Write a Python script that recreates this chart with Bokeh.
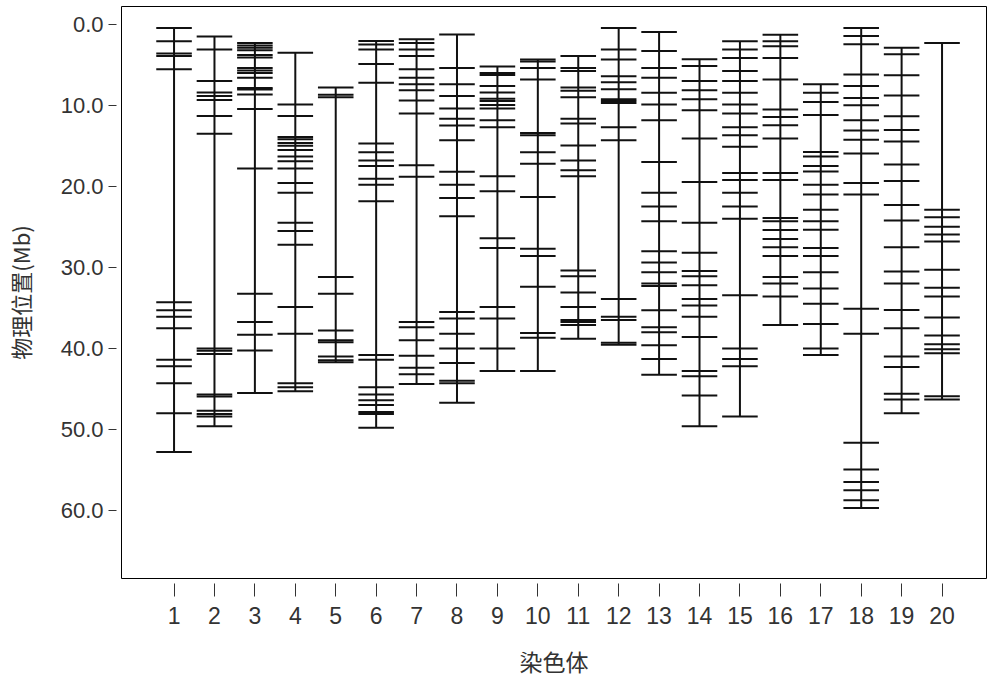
from bokeh.plotting import figure
from bokeh.models import Range1d, FixedTicker, NumeralTickFormatter, ColumnDataSource
from bokeh.embed import file_html
from bokeh.resources import INLINE

# chromosome labels
chromosomes = list(range(1, 21))

# marker physical positions (Mb) per chromosome
chr1 = [0.45, 2.1, 3.6, 3.9, 5.55, 34.3, 35.3, 36.1, 37.5, 41.4, 42.2, 44.3, 48.0, 52.8]
chr2 = [1.5, 3.1, 7.0, 8.4, 8.85, 9.35, 11.3, 13.5, 40.0, 40.3, 40.7, 45.7, 45.95, 47.7, 48.1, 48.4, 49.6]
chr3 = [2.3, 2.6, 2.9, 3.2, 3.8, 4.1, 5.4, 5.7, 6.0, 6.6, 7.85, 8.05, 8.65, 10.45, 17.8, 33.25, 36.75, 38.3, 40.25, 45.5]
chr4 = [3.5, 9.9, 11.3, 13.9, 14.2, 14.65, 15.0, 15.5, 16.3, 16.9, 17.8, 19.6, 20.8, 24.5, 25.5, 27.2, 34.9, 38.2, 44.3, 44.8, 45.3]
chr5 = [7.8, 8.7, 9.0, 31.2, 33.25, 37.8, 39.0, 39.25, 41.0, 41.45, 41.7]
chr6 = [2.05, 2.5, 3.1, 4.9, 7.2, 14.7, 15.8, 16.8, 17.5, 19.05, 19.8, 21.85, 40.8, 41.4, 44.8, 45.7, 46.4, 47.0, 47.85, 48.1, 49.8]
chr7 = [1.85, 2.3, 3.1, 3.9, 5.55, 6.6, 7.4, 8.15, 9.4, 11.0, 17.4, 18.8, 36.75, 37.4, 39.0, 40.9, 42.4, 43.2, 44.4]
chr8 = [1.25, 5.4, 7.4, 8.85, 10.4, 11.65, 12.5, 14.3, 18.2, 19.8, 21.45, 23.7, 35.5, 36.3, 38.2, 40.0, 41.8, 44.0, 44.3, 46.7]
chr9 = [5.2, 6.0, 6.25, 7.6, 8.4, 9.2, 9.45, 9.95, 10.4, 11.85, 12.7, 18.75, 20.6, 26.4, 27.6, 34.9, 36.3, 40.0, 42.8]
chr10 = [4.35, 4.6, 5.4, 6.8, 13.4, 13.7, 15.8, 17.2, 21.3, 27.7, 28.6, 32.4, 38.1, 38.7, 42.8]
chr11 = [3.9, 5.4, 5.75, 7.8, 8.2, 9.0, 11.65, 12.25, 14.95, 16.8, 18.0, 18.75, 30.4, 31.1, 33.1, 34.9, 36.5, 36.75, 37.1, 38.8]
chr12 = [0.45, 3.1, 4.35, 6.4, 7.15, 8.0, 9.25, 9.45, 9.7, 12.7, 14.3, 33.9, 36.1, 36.5, 39.3, 39.55]
chr13 = [0.95, 3.3, 5.4, 6.6, 8.45, 9.9, 11.85, 17.0, 20.8, 22.5, 24.3, 28.0, 29.4, 30.6, 32.0, 32.3, 35.3, 37.4, 38.0, 39.6, 41.3, 43.25]
chr14 = [4.3, 5.15, 7.0, 8.15, 9.25, 10.6, 14.1, 19.45, 24.5, 28.2, 30.45, 31.1, 32.2, 33.9, 34.7, 36.1, 38.6, 42.8, 43.45, 45.8, 49.6]
chr15 = [2.1, 3.1, 4.15, 5.75, 7.0, 8.45, 9.9, 11.0, 12.7, 13.7, 15.1, 18.35, 19.2, 20.8, 22.5, 24.0, 33.45, 40.0, 41.3, 42.2, 48.4]
chr16 = [1.3, 2.1, 2.7, 4.15, 6.8, 10.5, 11.45, 12.45, 14.1, 18.35, 19.2, 23.9, 24.3, 25.4, 26.5, 27.5, 28.6, 31.2, 32.0, 33.6, 37.1]
chr17 = [7.4, 8.45, 9.6, 11.2, 15.75, 16.3, 17.5, 18.15, 19.8, 21.0, 22.9, 24.3, 25.35, 27.6, 28.6, 30.6, 32.6, 34.5, 37.0, 40.0, 40.8]
chr18 = [0.45, 1.45, 2.45, 6.2, 7.6, 9.1, 10.0, 11.85, 13.1, 14.25, 15.95, 19.6, 21.0, 35.1, 38.2, 51.65, 54.95, 56.5, 57.5, 58.75, 59.7]
chr19 = [2.9, 3.7, 6.3, 8.8, 11.35, 13.05, 14.45, 17.3, 19.35, 22.3, 24.2, 27.5, 30.5, 32.0, 35.25, 37.5, 41.0, 42.3, 45.6, 46.3, 48.0]
chr20 = [2.3, 22.9, 23.8, 25.0, 25.95, 26.8, 30.3, 32.5, 33.6, 36.2, 38.4, 39.5, 40.1, 40.6, 45.9, 46.3]

markers = [chr1, chr2, chr3, chr4, chr5, chr6, chr7, chr8, chr9, chr10,
           chr11, chr12, chr13, chr14, chr15, chr16, chr17, chr18, chr19, chr20]

y_ticks = [0, 10, 20, 30, 40, 50, 60]

HALF = 0.44  # half width of a marker bar (style)

vx, vy0, vy1 = [], [], []
hx0, hx1, hy = [], [], []
for c, pos in zip(chromosomes, markers):
    vx.append(c)
    vy0.append(min(pos))
    vy1.append(max(pos))
    for v in pos:
        hx0.append(c - HALF)
        hx1.append(c + HALF)
        hy.append(v)

vsrc = ColumnDataSource(dict(x=vx, y0=vy0, y1=vy1))
hsrc = ColumnDataSource(dict(x0=hx0, x1=hx1, y=hy))

p = figure(width=1000, height=687, output_backend="svg", toolbar_location=None,
           x_range=Range1d(-0.3, 21.1), y_range=Range1d(68.4, -2.2),
           min_border_left=121, min_border_right=14, min_border_top=6, min_border_bottom=109,
           background_fill_color="white", border_fill_color="white")

p.segment(x0="x", y0="y0", x1="x", y1="y1", source=vsrc, line_color="#111111", line_width=2)
p.segment(x0="x0", y0="y", x1="x1", y1="y", source=hsrc, line_color="#111111", line_width=2)

p.grid.visible = False
p.outline_line_color = "black"
p.outline_line_width = 1
p.outline_line_alpha = 1.0

xa = p.xaxis[0]
xa.ticker = FixedTicker(ticks=chromosomes)
xa.axis_line_color = None
xa.minor_tick_line_color = None
xa.major_tick_in = -5
xa.major_tick_out = 18
xa.major_tick_line_color = "#333333"
xa.major_label_standoff = 10
xa.major_label_text_font = "Liberation Sans"
xa.major_label_text_font_size = "23px"
xa.major_label_text_color = "#333333"
xa.axis_label = "染色体"
xa.axis_label_text_font = "Noto Sans CJK SC"
xa.axis_label_text_font_style = "normal"
xa.axis_label_text_font_size = "23px"
xa.axis_label_text_color = "#333333"
xa.axis_label_standoff = 17

ya = p.yaxis[0]
ya.ticker = FixedTicker(ticks=y_ticks)
ya.formatter = NumeralTickFormatter(format="0.0")
ya.axis_line_color = None
ya.minor_tick_line_color = None
ya.major_tick_in = -5
ya.major_tick_out = 13
ya.major_tick_line_color = "#333333"
ya.major_label_standoff = 5
ya.major_label_text_font = "Liberation Sans"
ya.major_label_text_font_size = "22px"
ya.major_label_text_color = "#333333"
ya.axis_label = "物理位置(Mb)"
ya.axis_label_text_font = "Noto Sans CJK SC"
ya.axis_label_text_font_style = "normal"
ya.axis_label_text_font_size = "22px"
ya.axis_label_text_color = "#333333"
ya.axis_label_standoff = 22

open("out.html", "w").write(file_html(p, INLINE))
